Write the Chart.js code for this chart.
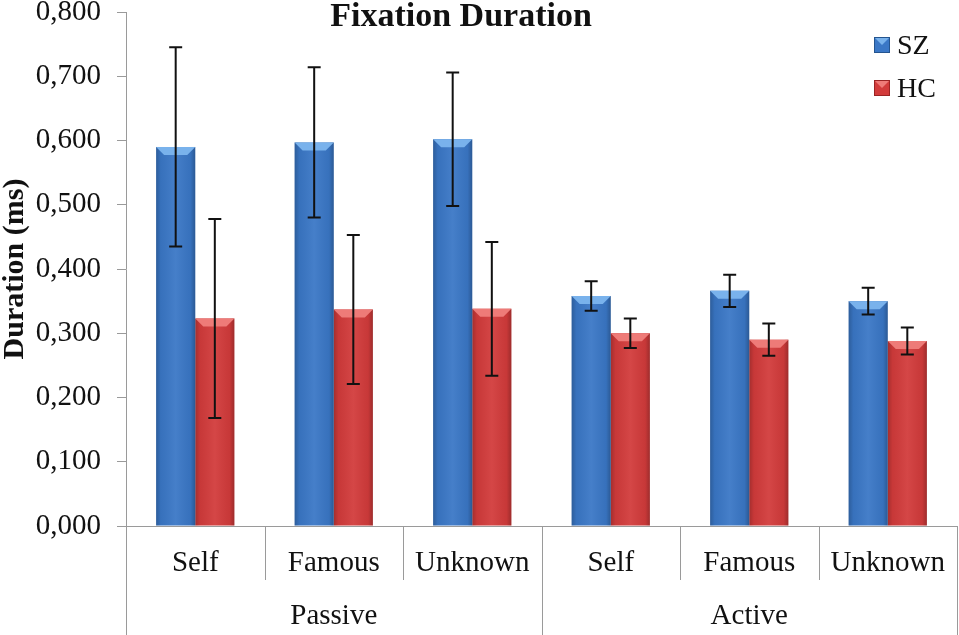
<!DOCTYPE html>
<html>
<head>
<meta charset="utf-8">
<script src="https://cdn.jsdelivr.net/npm/chart.js@4/dist/chart.umd.min.js"></script>
<style>
html,body{margin:0;padding:0;background:#fff;}
#wrap{width:959px;height:635px;position:relative;}
</style>
</head>
<body>
<div id="wrap"><canvas id="c" width="959" height="635"></canvas></div>
<script>
const categories = ['Self','Famous','Unknown','Self','Famous','Unknown'];
const groupLabels = ['Passive','Active'];
const groupSizes = [3,3];
const seriesNames = ['SZ','HC'];
const szMeans = [0.590, 0.597, 0.602, 0.358, 0.366, 0.350];
const szErr   = [0.155, 0.117, 0.104, 0.023, 0.025, 0.021];
const hcMeans = [0.323, 0.337, 0.338, 0.300, 0.290, 0.288];
const hcErr   = [0.155, 0.116, 0.104, 0.023, 0.025, 0.021];
const yTicks = [0,0.1,0.2,0.3,0.4,0.5,0.6,0.7,0.8];

const SERIF = '"Liberation Serif","Times New Roman",serif';
const palette = [
  {fill:'#3a77c6', light:'#79b2ec', dark:'#24548f'},
  {fill:'#d23b3b', light:'#ee7b78', dark:'#9a2424'}
];
const errs = [szErr, hcErr];

const decorPlugin = {
  id:'decor',
  afterDatasetsDraw(chart){
    const ctx = chart.ctx;
    const ys = chart.scales.y;
    chart.data.datasets.forEach((ds, di) => {
      const meta = chart.getDatasetMeta(di);
      meta.data.forEach((bar, i) => {
        const w = bar.width, x0 = bar.x - w/2, x1 = bar.x + w/2, top = bar.y, base = bar.base;
        ctx.save();
        const g = ctx.createLinearGradient(x0,0,x1,0);
        g.addColorStop(0,'rgba(0,0,0,0.22)');
        g.addColorStop(0.12,'rgba(0,0,0,0.05)');
        g.addColorStop(0.5,'rgba(255,255,255,0.06)');
        g.addColorStop(0.88,'rgba(0,0,0,0.05)');
        g.addColorStop(1,'rgba(0,0,0,0.25)');
        ctx.fillStyle = g;
        ctx.fillRect(x0, top, w, base-top);
        const bv = 8;
        ctx.fillStyle = palette[di].light;
        ctx.beginPath();
        ctx.moveTo(x0, top); ctx.lineTo(x1, top); ctx.lineTo(x1-bv, top+bv); ctx.lineTo(x0+bv, top+bv); ctx.closePath();
        ctx.fill();
        ctx.restore();
      });
    });
    chart.data.datasets.forEach((ds, di) => {
      const meta = chart.getDatasetMeta(di);
      meta.data.forEach((bar, i) => {
        const v = ds.data[i], e = errs[di][i];
        const yt = ys.getPixelForValue(v+e), yb = ys.getPixelForValue(v-e);
        const cap = 6.5;
        ctx.save();
        ctx.strokeStyle = '#111'; ctx.lineWidth = 2;
        ctx.beginPath();
        ctx.moveTo(bar.x, yt); ctx.lineTo(bar.x, yb);
        ctx.moveTo(bar.x-cap, yt); ctx.lineTo(bar.x+cap, yt);
        ctx.moveTo(bar.x-cap, yb); ctx.lineTo(bar.x+cap, yb);
        ctx.stroke();
        ctx.restore();
      });
    });
  },
  afterDraw(chart){
    const ctx = chart.ctx;
    const xs = chart.scales.x;
    const area = chart.chartArea;
    const n = categories.length;
    const half = (xs.getPixelForTick(1) - xs.getPixelForTick(0))/2;
    const bounds = [];
    for (let i=0;i<=n;i++){
      bounds.push(i<n ? xs.getPixelForTick(i)-half : xs.getPixelForTick(n-1)+half);
    }
    const gb = [0]; groupSizes.reduce((a,s)=>{gb.push(a+s); return a+s;},0);
    ctx.save();
    ctx.strokeStyle = '#9a9a9a'; ctx.lineWidth = 1;
    ctx.beginPath();
    for (let i=0;i<=n;i++){
      const x = Math.round(bounds[i])+0.5;
      const isGroup = gb.includes(i);
      ctx.moveTo(x, area.bottom);
      ctx.lineTo(x, isGroup ? chart.height : area.bottom+54);
    }
    ctx.stroke();
    ctx.fillStyle = '#111';
    ctx.font = '29px '+SERIF;
    ctx.textAlign = 'center'; ctx.textBaseline = 'middle';
    for (let g=0; g<groupLabels.length; g++){
      const cx = (bounds[gb[g]] + bounds[gb[g+1]])/2;
      ctx.fillText(groupLabels[g], cx, 616);
    }
    ctx.font = 'bold 34px '+SERIF;
    ctx.fillText('Fixation Duration', 461, 17);
    ctx.textAlign = 'left';
    ctx.font = '28px '+SERIF;
    seriesNames.forEach((name, k) => {
      const yc = 45 + k*43;
      const sx = 874, sy = yc-8, s = 16;
      ctx.fillStyle = palette[k].fill;
      ctx.fillRect(sx, sy, s, s);
      ctx.fillStyle = palette[k].light;
      ctx.beginPath(); ctx.moveTo(sx,sy); ctx.lineTo(sx+s,sy); ctx.lineTo(sx+s/2, sy+s/2); ctx.closePath(); ctx.fill();
      ctx.strokeStyle = palette[k].dark; ctx.lineWidth = 1;
      ctx.strokeRect(sx+0.5, sy+0.5, s-1, s-1);
      ctx.fillStyle = '#111';
      ctx.fillText(name, 897, yc+2);
    });
    ctx.restore();
  }
};

new Chart(document.getElementById('c'), {
  type:'bar',
  data:{
    labels: categories,
    datasets:[
      {label:seriesNames[0], data:szMeans, backgroundColor:palette[0].fill, borderWidth:0},
      {label:seriesNames[1], data:hcMeans, backgroundColor:palette[1].fill, borderWidth:0}
    ]
  },
  options:{
    responsive:false,
    animation:false,
    devicePixelRatio:1,
    layout:{padding:{top:12, right:2, left:0, bottom:0}},
    datasets:{bar:{categoryPercentage:0.565, barPercentage:1}},
    plugins:{legend:{display:false}, title:{display:false}, tooltip:{enabled:false}},
    scales:{
      x:{
        grid:{display:true, drawOnChartArea:false, drawTicks:false},
        border:{display:true, color:'#9a9a9a', width:1},
        ticks:{color:'#111', font:{family:SERIF, size:29}, padding:20, maxRotation:0, autoSkip:false},
        afterFit(s){ s.height = 109; s.paddingLeft = 0; s.paddingRight = 0; }
      },
      y:{
        min:0, max:0.8,
        afterBuildTicks(s){ s.ticks = yTicks.map(v=>({value:v})); },
        grid:{display:true, drawOnChartArea:false, drawTicks:true, tickLength:9, color:'#9a9a9a'},
        border:{display:true, color:'#9a9a9a', width:1},
        ticks:{color:'#111', font:{family:SERIF, size:29}, padding:16,
          callback:(v)=>Number(v).toFixed(3).replace('.',',')},
        title:{display:true, text:'Duration (ms)', color:'#111', font:{family:SERIF, size:30, weight:'bold', lineHeight:1}, padding:0},
        afterFit(s){ s.width = 126; s.paddingTop = 0; s.paddingBottom = 0; }
      }
    }
  },
  plugins:[decorPlugin]
});
</script>
</body>
</html>
